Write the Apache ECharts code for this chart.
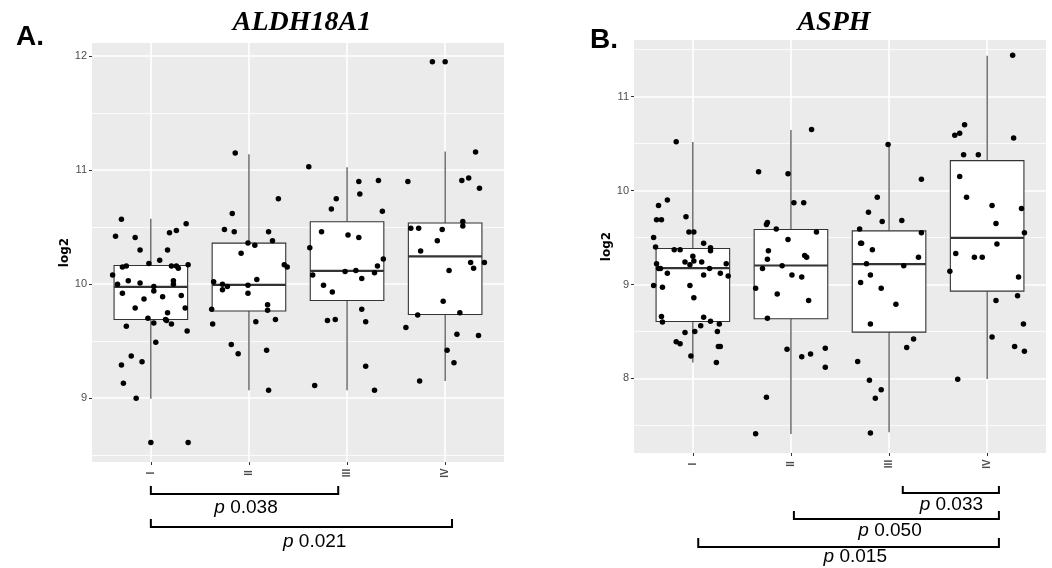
<!DOCTYPE html>
<html>
<head>
<meta charset="utf-8">
<title>ALDH18A1 / ASPH by stage</title>
<script src="https://cdn.jsdelivr.net/npm/echarts@6/dist/echarts.min.js"></script>
<style>
    html, body { margin: 0; padding: 0; background: #fff; }
    #main { width: 1052px; height: 568px; }
</style>
</head>
<body>
<div id="main"></div>
<script>
'use strict';

var stages = ['I', 'II', 'III', 'IV'];
var stagePos = [1, 2, 3, 4];
var titles = ['ALDH18A1', 'ASPH'];
var panelTags = ['A.', 'B.'];

// [lower whisker, Q1, median, Q3, upper whisker] per stage
var aldhBoxes = [
    [8.995, 9.69, 9.976, 10.164, 10.574],
    [9.07, 9.765, 9.994, 10.36, 11.14],
    [9.07, 9.857, 10.117, 10.547, 11.025],
    [9.15, 9.734, 10.243, 10.536, 11.163]
];
var asphBoxes = [
    [8.17, 8.606, 9.174, 9.383, 10.518],
    [7.408, 8.635, 9.202, 9.585, 10.645],
    [7.426, 8.493, 9.216, 9.571, 10.493],
    [7.993, 8.929, 9.496, 10.319, 11.436]
];

// jittered samples: [offset from stage, log2]
var aldhI = [[-0.30, 10.57], [-0.36, 10.42], [-0.16, 10.41], [0.36, 10.53], [0.26, 10.47], [0.19, 10.45], [-0.11, 10.30],
    [0.17, 10.30], [0.09, 10.21], [-0.02, 10.18], [-0.29, 10.15], [-0.25, 10.16], [0.21, 10.16], [0.26, 10.16], [0.28, 10.14],
    [0.38, 10.17], [-0.39, 10.08], [-0.34, 10.00], [-0.23, 10.03], [-0.11, 10.01], [0.03, 9.98], [0.23, 10.03], [0.23, 10.00],
    [-0.29, 9.92], [0.03, 9.94], [0.12, 9.89], [0.31, 9.90], [-0.07, 9.87], [-0.16, 9.79], [0.35, 9.79], [0.17, 9.75],
    [-0.03, 9.70], [0.03, 9.66], [0.15, 9.69], [0.16, 9.68], [0.21, 9.65], [-0.25, 9.63], [0.37, 9.59], [0.05, 9.49],
    [-0.20, 9.37], [-0.09, 9.32], [-0.30, 9.29], [-0.28, 9.13], [-0.15, 9.00], [0.00, 8.61], [0.38, 8.61]];
var aldhII = [[-0.14, 11.15], [0.30, 10.75], [-0.17, 10.62], [-0.25, 10.48], [-0.15, 10.46], [0.20, 10.46], [0.24, 10.38],
    [-0.01, 10.36], [0.06, 10.34], [-0.08, 10.27], [0.36, 10.17], [0.39, 10.15], [0.08, 10.04], [-0.36, 10.02], [-0.27, 10.00],
    [-0.22, 9.98], [-0.01, 9.99], [-0.27, 9.95], [-0.01, 9.92], [-0.38, 9.78], [0.19, 9.82], [0.19, 9.77], [0.27, 9.69],
    [0.07, 9.67], [-0.37, 9.65], [-0.18, 9.47], [-0.11, 9.39], [0.18, 9.42], [0.20, 9.07]];
var aldhIII = [[-0.39, 11.03], [0.32, 10.91], [0.12, 10.90], [0.13, 10.79], [-0.11, 10.75], [-0.16, 10.66], [0.36, 10.64],
    [-0.26, 10.46], [0.01, 10.43], [0.12, 10.41], [-0.38, 10.32], [0.37, 10.22], [0.31, 10.16], [-0.35, 10.08], [-0.02, 10.11],
    [0.09, 10.12], [0.28, 10.10], [0.15, 10.05], [-0.24, 9.99], [-0.15, 9.93], [0.15, 9.78], [-0.20, 9.68], [-0.12, 9.69],
    [0.19, 9.67], [0.19, 9.28], [-0.33, 9.11], [0.28, 9.07]];
var aldhIV = [[-0.13, 11.95], [0.00, 11.95], [0.31, 11.16], [-0.38, 10.90], [0.17, 10.91], [0.24, 10.93], [0.35, 10.84],
    [-0.35, 10.49], [-0.27, 10.49], [-0.03, 10.48], [0.18, 10.55], [0.18, 10.51], [-0.25, 10.29], [-0.08, 10.38], [0.04, 10.12],
    [0.26, 10.19], [0.40, 10.19], [0.29, 10.14], [-0.02, 9.85], [-0.28, 9.73], [0.15, 9.75], [-0.40, 9.62], [0.12, 9.56],
    [0.34, 9.55], [0.02, 9.42], [0.09, 9.31], [-0.26, 9.15]];

var asphI = [[-0.17, 10.52], [-0.26, 9.90], [-0.35, 9.84], [-0.37, 9.69], [-0.32, 9.69], [-0.07, 9.72], [-0.40, 9.50],
    [-0.38, 9.40], [-0.04, 9.56], [0.01, 9.56], [-0.19, 9.37], [-0.13, 9.37], [0.11, 9.44], [0.18, 9.39], [0.18, 9.36],
    [0.00, 9.30], [-0.08, 9.24], [-0.03, 9.21], [0.01, 9.25], [0.09, 9.24], [-0.37, 9.22], [-0.35, 9.17], [-0.33, 9.17],
    [0.17, 9.17], [0.34, 9.22], [-0.26, 9.12], [0.28, 9.12], [0.11, 9.10], [0.36, 9.09], [-0.40, 8.99], [-0.31, 8.97],
    [-0.03, 8.99], [0.01, 8.86], [-0.32, 8.66], [-0.31, 8.60], [0.11, 8.65], [0.08, 8.56], [0.18, 8.61], [0.27, 8.58],
    [-0.08, 8.49], [0.02, 8.50], [0.25, 8.50], [-0.17, 8.39], [-0.13, 8.37], [0.26, 8.34], [0.28, 8.34], [-0.02, 8.24],
    [0.24, 8.17]];
var asphII = [[0.21, 10.65], [-0.33, 10.20], [-0.03, 10.18], [0.03, 9.87], [0.13, 9.87], [-0.24, 9.66], [-0.25, 9.64],
    [-0.15, 9.59], [0.26, 9.56], [-0.03, 9.48], [-0.23, 9.36], [0.14, 9.31], [0.16, 9.29], [-0.24, 9.27], [-0.09, 9.20],
    [-0.29, 9.17], [0.01, 9.10], [0.11, 9.08], [-0.36, 8.96], [-0.14, 8.90], [0.18, 8.83], [-0.24, 8.64], [-0.04, 8.31],
    [0.35, 8.32], [0.11, 8.23], [0.20, 8.26], [0.35, 8.12], [-0.25, 7.80], [-0.36, 7.41]];
var asphIII = [[-0.01, 10.49], [0.33, 10.12], [-0.12, 9.93], [-0.21, 9.77], [-0.07, 9.67], [0.13, 9.68], [-0.30, 9.59],
    [0.33, 9.55], [-0.29, 9.44], [-0.28, 9.44], [-0.17, 9.37], [0.30, 9.29], [-0.23, 9.22], [0.15, 9.20], [-0.19, 9.10],
    [-0.29, 9.02], [-0.08, 8.96], [0.07, 8.79], [-0.19, 8.58], [0.25, 8.42], [0.18, 8.33], [-0.32, 8.18], [-0.20, 7.98],
    [-0.08, 7.88], [-0.14, 7.79], [-0.19, 7.42]];
var asphIV = [[0.26, 11.44], [-0.23, 10.70], [-0.33, 10.59], [-0.28, 10.61], [0.27, 10.56], [-0.24, 10.38], [-0.09, 10.38],
    [-0.28, 10.15], [-0.21, 9.93], [0.05, 9.84], [0.35, 9.81], [0.09, 9.65], [0.38, 9.55], [0.10, 9.43], [-0.32, 9.33],
    [-0.13, 9.29], [-0.05, 9.29], [-0.38, 9.14], [0.32, 9.08], [0.31, 8.88], [0.09, 8.83], [0.37, 8.58], [0.05, 8.44],
    [0.28, 8.34], [0.38, 8.29], [-0.30, 7.99]];

var aldhTicks = [9, 10, 11, 12];
var aldhMinor = [8.5, 9.5, 10.5, 11.5];
var asphTicks = [8, 9, 10, 11];
var asphMinor = [7.5, 8.5, 9.5, 10.5, 11.5];

// comparisons: [from, to, label centre] in stage units
var aldhPairs = [[1, 2.91, 1.97], [1, 4.07, 2.67]];
var aldhP = ['0.038', '0.021'];
var asphPairs = [[3.14, 4.12, 3.635], [2.03, 4.12, 3.01], [1.055, 4.12, 2.656]];
var asphP = ['0.033', '0.050', '0.015'];

var panels = [{
    boxes: aldhBoxes,
    samples: [aldhI, aldhII, aldhIII, aldhIV],
    ticks: aldhTicks, minor: aldhMinor,
    min: 8.44, max: 12.115,
    grid: { left: 92, top: 43, width: 412, height: 419 },
    title: { x: 302, y: 23 }, tag: { x: 16, y: 37 },
    pairs: aldhPairs, p: aldhP,
    rows: [[486, 494, 508], [519, 527, 542]]
}, {
    boxes: asphBoxes,
    samples: [asphI, asphII, asphIII, asphIV],
    ticks: asphTicks, minor: asphMinor,
    min: 7.206, max: 11.603,
    grid: { left: 634, top: 40, width: 412, height: 413 },
    title: { x: 834, y: 23 }, tag: { x: 590, y: 40 },
    pairs: asphPairs, p: asphP,
    rows: [[486, 493, 505], [511, 519, 531], [538, 547, 557]]
}];

var BOX_HALF = 0.375;
var INK = '#333333';
var LABEL_FONT = 'Liberation Sans';

function renderBox(params, api) {
    var x = api.value(0);
    var lo = api.coord([x, api.value(1)]);
    var q1 = api.coord([x - BOX_HALF, api.value(2)]);
    var medL = api.coord([x - BOX_HALF, api.value(3)]);
    var medR = api.coord([x + BOX_HALF, api.value(3)]);
    var q3 = api.coord([x + BOX_HALF, api.value(4)]);
    var hi = api.coord([x, api.value(5)]);
    var whisker = { stroke: '#3a3a3a', lineWidth: 1.1 };
    return {
        type: 'group',
        children: [
            { type: 'line', shape: { x1: lo[0], y1: lo[1], x2: lo[0], y2: q1[1] }, style: whisker },
            { type: 'line', shape: { x1: hi[0], y1: q3[1], x2: hi[0], y2: hi[1] }, style: whisker },
            {
                type: 'rect',
                shape: { x: q1[0], y: q3[1], width: q3[0] - q1[0], height: q1[1] - q3[1] },
                style: { fill: '#ffffff', stroke: INK, lineWidth: 1.1 }
            },
            { type: 'line', shape: { x1: medL[0], y1: medL[1], x2: medR[0], y2: medR[1] }, style: { stroke: INK, lineWidth: 2.2 } }
        ]
    };
}

function gridLines(p) {
    var white = function(w) { return { color: '#ffffff', width: w, type: 'solid' }; };
    var out = [];
    p.minor.forEach(function(v) { out.push({ yAxis: v, lineStyle: white(0.8) }); });
    p.ticks.forEach(function(v) { out.push({ yAxis: v, lineStyle: white(1.6) }); });
    stagePos.forEach(function(v) { out.push({ xAxis: v, lineStyle: white(1.6) }); });
    return out;
}

var option = {
    animation: false,
    grid: [],
    xAxis: [],
    yAxis: [],
    series: []
};

panels.forEach(function(p, i) {
    option.grid.push({
        left: p.grid.left, top: p.grid.top, width: p.grid.width, height: p.grid.height,
        show: true, backgroundColor: '#EBEBEB', borderWidth: 0
    });
    option.xAxis.push({
        gridIndex: i, type: 'value', min: 0.4, max: 4.6,
        axisLine: { show: false },
        axisTick: { show: true, customValues: stagePos, length: 3, lineStyle: { color: INK } },
        axisLabel: {
            customValues: stagePos,
            formatter: function(v) { return stages[Math.round(v) - 1] || ''; },
            rotate: 90, align: 'center', verticalAlign: 'middle', margin: 11,
            color: '#4D4D4D', fontSize: 10, fontWeight: 'bold', fontFamily: LABEL_FONT
        },
        splitLine: { show: false }
    });
    option.yAxis.push({
        gridIndex: i, type: 'value', min: p.min, max: p.max,
        name: 'log2', nameLocation: 'middle', nameGap: 19,
        nameTextStyle: { fontWeight: 'bold', fontSize: 12, color: '#000', fontFamily: 'DejaVu Sans' },
        axisLine: { show: false },
        axisTick: { show: true, customValues: p.ticks, length: 3, lineStyle: { color: INK } },
        axisLabel: { customValues: p.ticks, color: '#4D4D4D', fontSize: 11, margin: 5, fontFamily: LABEL_FONT },
        splitLine: { show: false }
    });

    option.series.push({
        type: 'line', xAxisIndex: i, yAxisIndex: i, data: [], z: 1, silent: true,
        markLine: { z: 1, silent: true, symbol: ['none', 'none'], label: { show: false }, data: gridLines(p) }
    });
    option.series.push({
        type: 'custom', xAxisIndex: i, yAxisIndex: i, z: 2,
        renderItem: renderBox,
        encode: { x: 0, y: [1, 2, 3, 4, 5] },
        data: p.boxes.map(function(b, k) { return [stagePos[k]].concat(b); })
    });

    var pts = [];
    p.samples.forEach(function(group, k) {
        group.forEach(function(s) { pts.push([stagePos[k] + s[0], s[1]]); });
    });
    option.series.push({
        type: 'scatter', xAxisIndex: i, yAxisIndex: i, z: 3,
        symbolSize: 5.5, itemStyle: { color: '#000', opacity: 1 },
        data: pts
    });
});

var chart = echarts.init(document.getElementById('main'));
chart.setOption(option);

// titles, panel tags and comparison brackets sit outside the plotting area
var graphics = [];
panels.forEach(function(p, i) {
    graphics.push({
        type: 'text', x: p.title.x, y: p.title.y,
        style: {
            text: titles[i], font: 'italic bold 28px "Liberation Serif"', fill: '#000',
            align: 'center', verticalAlign: 'middle'
        }
    });
    graphics.push({
        type: 'text', x: p.tag.x, y: p.tag.y,
        style: {
            text: panelTags[i], font: 'bold 28px "Liberation Sans"', fill: '#000',
            align: 'left', verticalAlign: 'middle'
        }
    });
    p.pairs.forEach(function(pair, k) {
        var x1 = chart.convertToPixel({ xAxisIndex: i }, pair[0]);
        var x2 = chart.convertToPixel({ xAxisIndex: i }, pair[1]);
        var xc = chart.convertToPixel({ xAxisIndex: i }, pair[2]);
        var row = p.rows[k];
        graphics.push({
            type: 'polyline',
            shape: { points: [[x1, row[0]], [x1, row[1]], [x2, row[1]], [x2, row[0]]] },
            style: { stroke: '#000', lineWidth: 2, fill: null }
        });
        graphics.push({
            type: 'text', x: xc, y: row[2],
            style: {
                text: '{it|p} ' + p.p[k],
                fontSize: 19, fontFamily: LABEL_FONT, fill: '#000',
                align: 'center', verticalAlign: 'middle',
                rich: { it: { fontStyle: 'italic', fontSize: 19, fontFamily: LABEL_FONT, fill: '#000' } }
            }
        });
    });
});
chart.setOption({ graphic: graphics });
</script>
</body>
</html>
